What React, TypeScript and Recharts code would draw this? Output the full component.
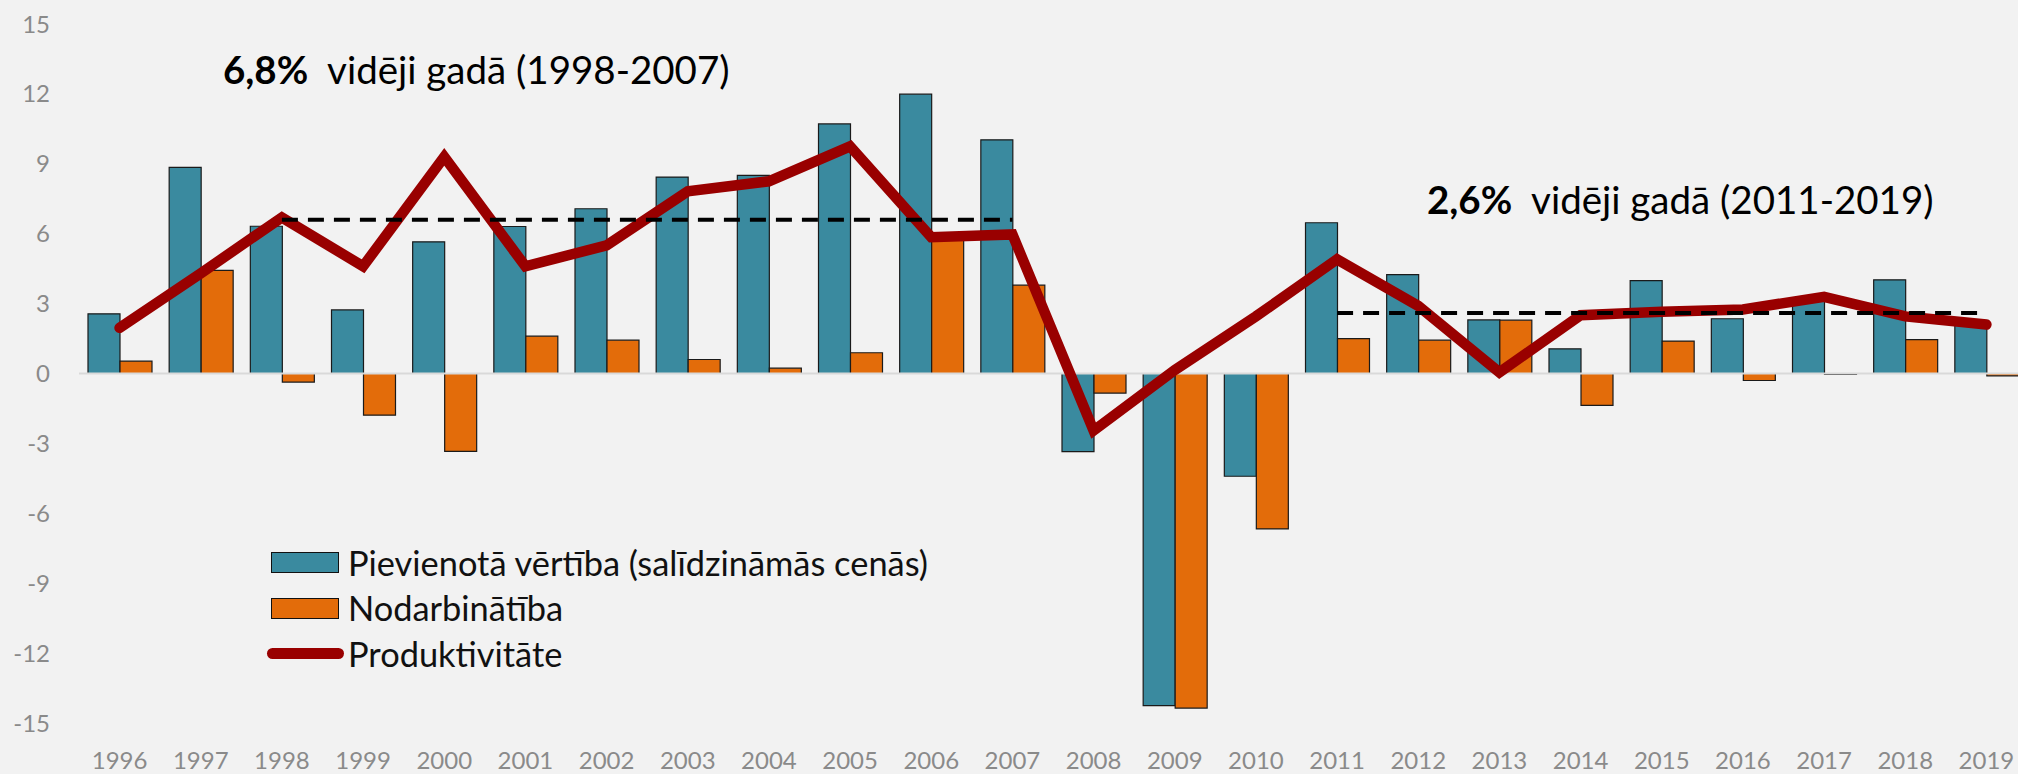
import React from 'react';
import { ComposedChart, Bar, Line, XAxis, YAxis, ReferenceLine, Legend } from 'recharts';

const years = [
  '1996', '1997', '1998', '1999', '2000', '2001', '2002', '2003', '2004', '2005', '2006', '2007',
  '2008', '2009', '2010', '2011', '2012', '2013', '2014', '2015', '2016', '2017', '2018', '2019',
];

// Pievienotā vērtība (salīdzināmās cenās), % pret iepr. gadu
const valueAdded = [
  2.56, 8.85, 6.32, 2.73, 5.65, 6.31, 7.07, 8.43, 8.5, 10.71, 11.99, 10.03,
  -3.35, -14.25, -4.41, 6.47, 4.24, 2.3, 1.06, 3.99, 2.35, 3.1, 4.02, 2.2,
];

// Nodarbinātība
const employment = [
  0.53, 4.43, -0.37, -1.79, -3.34, 1.6, 1.43, 0.6, 0.23, 0.89, 5.9, 3.79,
  -0.84, -14.36, -6.67, 1.5, 1.43, 2.29, -1.37, 1.39, -0.3, -0.04, 1.45, -0.1,
];

// Produktivitāte
const productivity = [
  1.96, 4.3, 6.7, 4.6, 9.3, 4.6, 5.5, 7.82, 8.25, 9.75, 5.85, 5.97,
  -2.45, 0.15, 2.45, 4.9, 2.9, 0.05, 2.5, 2.65, 2.75, 3.29, 2.45, 2.1,
];

// vidējie rādītāji periodos
const avgEarly = [
  null, null, 6.6, 6.6, 6.6, 6.6, 6.6, 6.6, 6.6, 6.6, 6.6, 6.6,
  null, null, null, null, null, null, null, null, null, null, null, null,
];
const avgLate = [
  null, null, null, null, null, null, null, null, null, null, null, null,
  null, null, null, 2.6, 2.6, 2.6, 2.6, 2.6, 2.6, 2.6, 2.6, 2.6,
];

const yTicks = [-15, -12, -9, -6, -3, 0, 3, 6, 9, 12, 15];

const legendOrder = ['valueAdded', 'employment', 'productivity'];

const data = years.map((year, i) => ({
  year,
  valueAdded: valueAdded[i],
  employment: employment[i],
  productivity: productivity[i],
  avgEarly: avgEarly[i],
  avgLate: avgLate[i],
}));

const FONT = 'Lato, "Open Sans", sans-serif';
const tickStyle = { fill: '#8a8a8a', fontSize: 24, fontFamily: FONT };

function LegendContent(props: any) {
  const items = (props.payload || [])
    .filter((p: any) => p.type !== 'none')
    .sort((a: any, b: any) => legendOrder.indexOf(a.dataKey) - legendOrder.indexOf(b.dataKey));
  return (
    <div style={{ fontFamily: FONT, fontSize: 34.4, color: '#111' }}>
      {items.map((item: any) => (
        <div key={item.value} style={{ display: 'flex', alignItems: 'center', height: 45.5 }}>
          {item.type === 'line' ? (
            <span
              style={{
                display: 'inline-block',
                width: 77,
                height: 11,
                borderRadius: 6,
                background: item.color,
                marginRight: 4,
              }}
            />
          ) : (
            <span
              style={{
                display: 'inline-block',
                boxSizing: 'border-box',
                width: 68,
                height: 21,
                marginLeft: 4,
                marginRight: 9,
                background: item.color,
                border: '1.5px solid #111',
              }}
            />
          )}
          <span style={{ whiteSpace: 'nowrap', lineHeight: 1 }}>{item.value}</span>
        </div>
      ))}
    </div>
  );
}

const noteStyle: React.CSSProperties = {
  position: 'absolute',
  fontFamily: FONT,
  fontSize: 38.5,
  lineHeight: 1,
  color: '#000',
  whiteSpace: 'pre',
};

export default function App() {
  return (
    <div
      style={{
        position: 'absolute',
        left: 0,
        top: 0,
        width: 2018,
        height: 774,
        overflow: 'hidden',
        background: '#f2f2f2',
      }}
    >
      <ComposedChart
        width={2040}
        height={774}
        data={data}
        margin={{ top: 24, right: 13, left: 0, bottom: 0 }}
        barGap={0}
        barSize={32}
      >
        <XAxis
          dataKey="year"
          axisLine={false}
          tickLine={false}
          tickSize={0}
          tickMargin={29}
          height={51}
          interval={0}
          tick={tickStyle}
        />
        <YAxis
          domain={[-15, 15]}
          ticks={yTicks}
          axisLine={false}
          tickLine={false}
          tickSize={0}
          tickMargin={29}
          width={79}
          interval={0}
          tick={tickStyle}
        />
        <Bar
          dataKey="valueAdded"
          name="Pievienotā vērtība (salīdzināmās cenās)"
          fill="#3a8a9f"
          stroke="#1a1a1a"
          strokeWidth={1.2}
          isAnimationActive={false}
        />
        <Bar
          dataKey="employment"
          name="Nodarbinātība"
          fill="#e36c0a"
          stroke="#1a1a1a"
          strokeWidth={1.2}
          isAnimationActive={false}
        />
        <ReferenceLine y={0} stroke="#d9d9d9" strokeWidth={2} />
        <Line
          type="linear"
          dataKey="productivity"
          name="Produktivitāte"
          stroke="#990000"
          strokeWidth={10.5}
          strokeLinecap="round"
          dot={false}
          activeDot={false}
          isAnimationActive={false}
        />
        <Line
          type="linear"
          dataKey="avgEarly"
          stroke="#000"
          strokeWidth={4}
          strokeDasharray="16 10"
          dot={false}
          activeDot={false}
          legendType="none"
          isAnimationActive={false}
        />
        <Line
          type="linear"
          dataKey="avgLate"
          stroke="#000"
          strokeWidth={4}
          strokeDasharray="16 10"
          dot={false}
          activeDot={false}
          legendType="none"
          isAnimationActive={false}
        />
        <Legend
          layout="vertical"
          align="center"
          verticalAlign="middle"
          content={<LegendContent />}
          wrapperStyle={{ left: 267, top: 540, width: 760 }}
        />
      </ComposedChart>
      <div style={{ ...noteStyle, left: 223, top: 50 }}>
        <b>6,8%</b>{'  vidēji gadā (1998-2007)'}
      </div>
      <div style={{ ...noteStyle, left: 1427, top: 180 }}>
        <b>2,6%</b>{'  vidēji gadā (2011-2019)'}
      </div>
    </div>
  );
}
